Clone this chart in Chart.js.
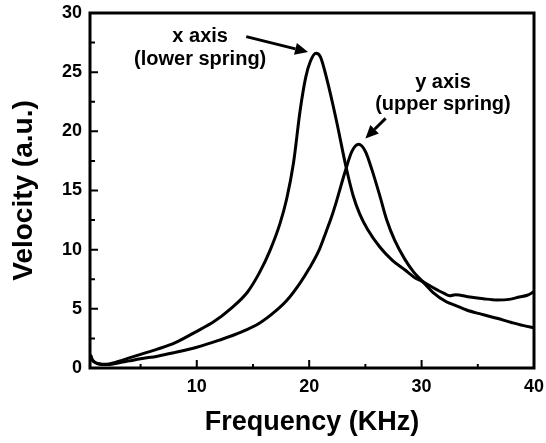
<!DOCTYPE html>
<html>
<head>
<meta charset="utf-8">
<script src="https://cdn.jsdelivr.net/npm/chart.js@4"></script>
<style>
html, body { margin: 0; padding: 0; background: #fff; }
</style>
</head>
<body>
<canvas id="chart" width="546" height="443"></canvas>
<script>
// x axis (lower spring) response
const freqLower = [0.55, 0.7, 0.9, 1.2, 1.6, 2.2, 3, 4, 5, 6.5, 8, 10, 11.5, 13, 14.5, 15.6, 16.5, 17.4, 18, 18.6, 19.2, 19.7, 20.1, 20.6, 21.0, 21.6, 22.4, 23.3, 23.9, 24.5, 25.2, 26.3, 27.4, 28.5, 29.3, 30.1, 31, 32, 32.5, 33, 34.3, 35.5, 36.7, 37.8, 38.7, 39.4, 40];
const velLower = [1.1, 0.7, 0.5, 0.38, 0.32, 0.35, 0.55, 0.85, 1.15, 1.6, 2.1, 3.1, 3.9, 5.0, 6.4, 8.1, 9.9, 12.2, 14.3, 17.3, 21.8, 24.6, 25.9, 26.6, 26.3, 24.3, 21.0, 16.9, 14.6, 13.0, 11.7, 10.2, 9.1, 8.3, 7.7, 7.3, 6.8, 6.3, 6.1, 6.2, 6.0, 5.85, 5.75, 5.8, 6.0, 6.15, 6.45];

// y axis (upper spring) response
const freqUpper = [0.55, 0.7, 0.9, 1.2, 1.6, 2.2, 3, 4, 5, 6.5, 8, 10, 12, 14, 15.6, 17, 18, 19.2, 20, 20.9, 21.5, 22.0, 22.4, 23.2, 23.8, 24.4, 25, 25.6, 26.3, 26.9, 27.6, 28.5, 29.3, 30.1, 31, 32.2, 33, 34, 35.3, 36.7, 38, 39, 40];
const velUpper = [1.1, 0.7, 0.5, 0.36, 0.3, 0.3, 0.42, 0.6, 0.78, 1.0, 1.3, 1.75, 2.35, 3.05, 3.8, 4.8, 5.7, 7.2, 8.4, 10.0, 11.5, 12.8, 14.0, 16.6, 18.3, 18.9, 18.3, 16.7, 14.5, 12.5, 10.8, 9.2, 8.1, 7.3, 6.4, 5.6, 5.3, 4.9, 4.55, 4.2, 3.85, 3.6, 3.4];

const xTicks = [10, 20, 30, 40];
const xMinor = [5, 15, 25, 35];
const yTicks = [0, 5, 10, 15, 20, 25, 30];
const yMinor = [2.5, 7.5, 12.5, 17.5, 22.5, 27.5];

const FONT = 'Arial, "Liberation Sans", Helvetica, sans-serif';

// labels with arrows, placed in data units
const notes = [
  { lines: ['x axis', '(lower spring)'], x: 10.3, y: [28.0, 26.1], from: [14.4, 28.0], to: [19.9, 26.7] },
  { lines: ['y axis', '(upper spring)'], x: 31.9, y: [24.1, 22.3], from: [26.8, 21.1], to: [25.0, 19.4] }
];

const frame = {
  id: 'frame',
  afterDraw(chart) {
    const ctx = chart.ctx;
    const a = chart.chartArea;
    const sx = chart.scales.x, sy = chart.scales.y;
    ctx.save();
    ctx.strokeStyle = '#000';
    ctx.lineWidth = 3;
    ctx.strokeRect(a.left, a.top, a.right - a.left, a.bottom - a.top);
    ctx.lineWidth = 2;
    ctx.beginPath();
    xTicks.forEach(v => { const p = sx.getPixelForValue(v); ctx.moveTo(p, a.bottom); ctx.lineTo(p, a.bottom - 8); });
    xMinor.forEach(v => { const p = sx.getPixelForValue(v); ctx.moveTo(p, a.bottom); ctx.lineTo(p, a.bottom - 4); });
    yTicks.forEach(v => { const p = sy.getPixelForValue(v); ctx.moveTo(a.left, p); ctx.lineTo(a.left + 8, p); });
    yMinor.forEach(v => { const p = sy.getPixelForValue(v); ctx.moveTo(a.left, p); ctx.lineTo(a.left + 5, p); });
    ctx.stroke();

    // annotations
    ctx.fillStyle = '#000';
    ctx.font = 'bold 20px ' + FONT;
    ctx.textAlign = 'center';
    ctx.textBaseline = 'middle';
    notes.forEach(n => {
      n.lines.forEach((t, i) => ctx.fillText(t, sx.getPixelForValue(n.x), sy.getPixelForValue(n.y[i])));
      const x1 = sx.getPixelForValue(n.from[0]), y1 = sy.getPixelForValue(n.from[1]);
      const x2 = sx.getPixelForValue(n.to[0]), y2 = sy.getPixelForValue(n.to[1]);
      const ang = Math.atan2(y2 - y1, x2 - x1);
      const hl = 13, hw = 6;
      const bx = x2 - hl * Math.cos(ang), by = y2 - hl * Math.sin(ang);
      ctx.lineWidth = 3;
      ctx.beginPath();
      ctx.moveTo(x1, y1);
      ctx.lineTo(bx, by);
      ctx.stroke();
      ctx.beginPath();
      ctx.moveTo(x2, y2);
      ctx.lineTo(bx + hw * Math.sin(ang), by - hw * Math.cos(ang));
      ctx.lineTo(bx - hw * Math.sin(ang), by + hw * Math.cos(ang));
      ctx.closePath();
      ctx.fill();
    });
    ctx.restore();
  }
};

const lineStyle = {
  borderColor: '#000',
  borderWidth: 3,
  pointRadius: 0,
  fill: false,
  cubicInterpolationMode: 'monotone'
};

new Chart(document.getElementById('chart').getContext('2d'), {
  type: 'line',
  data: {
    datasets: [
      Object.assign({ label: 'x axis (lower spring)', data: freqLower.map((f, i) => ({ x: f, y: velLower[i] })) }, lineStyle),
      Object.assign({ label: 'y axis (upper spring)', data: freqUpper.map((f, i) => ({ x: f, y: velUpper[i] })) }, lineStyle)
    ]
  },
  options: {
    responsive: false,
    animation: false,
    devicePixelRatio: 1,
    layout: { padding: { top: 13, right: 12, left: 0, bottom: 0 } },
    plugins: { legend: { display: false }, tooltip: { enabled: false } },
    scales: {
      x: {
        type: 'linear',
        min: 0.5,
        max: 40,
        grid: { display: false, drawTicks: false },
        border: { display: false },
        afterBuildTicks: s => { s.ticks = xTicks.map(v => ({ value: v })); },
        afterFit: s => { s.height = 75; s.paddingLeft = 0; s.paddingRight = 0; },
        ticks: { color: '#000', font: { family: FONT, size: 18, weight: 'bold' }, padding: 8, maxRotation: 0, autoSkip: false },
        title: { display: true, text: 'Frequency (KHz)', color: '#000', font: { family: FONT, size: 27, weight: 'bold' }, padding: { top: 0, bottom: 4 } }
      },
      y: {
        type: 'linear',
        min: 0,
        max: 30,
        grid: { display: false, drawTicks: false },
        border: { display: false },
        afterBuildTicks: s => { s.ticks = yTicks.map(v => ({ value: v })); },
        afterFit: s => { s.width = 90; s.paddingTop = 0; s.paddingBottom = 0; },
        ticks: { color: '#000', font: { family: FONT, size: 18, weight: 'bold' }, padding: 8 },
        title: { display: true, text: 'Velocity (a.u.)', color: '#000', font: { family: FONT, size: 28, weight: 'bold' }, padding: { top: 7, bottom: 0 } }
      }
    }
  },
  plugins: [frame]
});
</script>
</body>
</html>
